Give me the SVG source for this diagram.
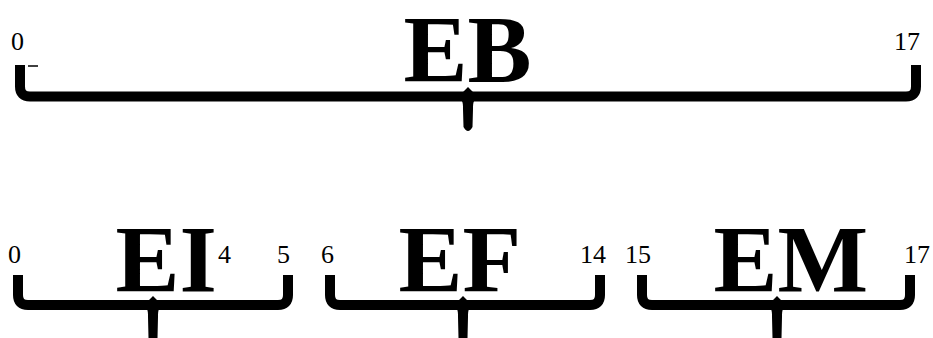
<svg xmlns="http://www.w3.org/2000/svg" width="933" height="338" viewBox="0 0 933 338">
<style>
.big{font-family:"Liberation Serif","Times New Roman",serif;font-weight:bold;font-size:96px;fill:#000}
.num{font-family:"Liberation Serif","Times New Roman",serif;font-size:26px;fill:#000}
.br{fill:none;stroke:#000;stroke-width:10}
.tip{fill:#000}
</style>
<rect width="933" height="338" fill="#fff"/>
<g id="EB">
<text class="big" x="403.5" y="82">EB</text>
<text class="num" x="11" y="50">0</text>
<text class="num" x="894" y="50">17</text>
</g>
<g id="EI">
<text class="big" x="115.5" y="292">EI</text>
<text class="num" x="8" y="263">0</text>
<text class="num" x="218" y="263">4</text>
<text class="num" x="277" y="263">5</text>
</g>
<g id="EF">
<text class="big" x="398.5" y="292">EF</text>
<text class="num" x="321" y="263">6</text>
<text class="num" x="580" y="263">14</text>
</g>
<g id="EM">
<text class="big" x="713.5" y="292">EM</text>
<text class="num" x="625" y="263">15</text>
<text class="num" x="904" y="263">17</text>
</g>
<g id="connectors">
<path class="br" d="M20,65 V86.5 Q20,96.5 30,96.5 H906 Q916,96.5 916,86.5 V65"/>
<path class="tip" d="M455,97 C463,98 463,103 463,109 L463.5,127 Q468,135 472.5,127 L473,109 C473,103 473,98 481,97 Z M463,92 L468,87 L473,92 Z"/>
<line x1="28" y1="66" x2="38" y2="66" stroke="#000" stroke-width="1.5"/>
<path class="br" d="M18,275 V295 Q18,305 28,305 H278 Q288,305 288,295 V275"/>
<path class="tip" d="M140,305 C148,306 148,311 148,317 L148.5,338 L157.5,338 L158,317 C158,311 158,306 166,305 Z M148,301 L153,296 L158,301 Z"/>
<path class="br" d="M330,275 V295 Q330,305 340,305 H590 Q600,305 600,295 V275"/>
<path class="tip" d="M450,305 C458,306 458,311 458,317 L458.5,338 L467.5,338 L468,317 C468,311 468,306 476,305 Z M458,301 L463,296 L468,301 Z"/>
<path class="br" d="M642,275 V295 Q642,305 652,305 H900 Q910,305 910,295 V275"/>
<path class="tip" d="M764,305 C772,306 772,311 772,317 L772.5,338 L781.5,338 L782,317 C782,311 782,306 790,305 Z M772,301 L777,296 L782,301 Z"/>
</g>
</svg>
